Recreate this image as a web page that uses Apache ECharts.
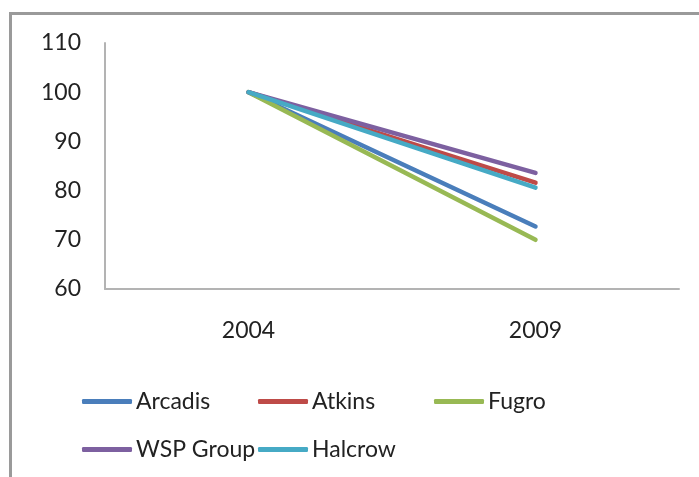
<!DOCTYPE html>
<html><head><meta charset="utf-8">
<script src="https://cdn.jsdelivr.net/npm/echarts@6/dist/echarts.min.js"></script>
<style>html,body{margin:0;padding:0;background:#fff}#c{width:699px;height:477px}</style>
</head><body><div id="c"></div>
<script>
var categories = ['2004', '2009'];
var seriesNames = ['Arcadis', 'Atkins', 'Fugro', 'WSP Group', 'Halcrow'];
var arcadis = [100, 72.7];
var atkins = [100, 81.6];
var fugro = [100, 70.0];
var wspGroup = [100, 83.6];
var halcrow = [100, 80.6];
var yTicks = [60, 70, 80, 90, 100, 110];

var colors = ['#4A7EBB', '#BE4B48', '#98B954', '#7D60A0', '#46AAC5'];
var values = [arcadis, atkins, fugro, wspGroup, halcrow];
var font = 'Lato, "Open Sans", sans-serif';

var legendPos = [[77, 385], [253, 385], [429, 385], [77, 433], [253, 433]];
var legends = seriesNames.map(function (n, i) {
  return {
    data: [n], left: legendPos[i][0], top: legendPos[i][1],
    itemWidth: 50, itemHeight: 5, itemGap: 0, selectedMode: false,
    icon: 'roundRect',
    textStyle: { fontFamily: font, fontSize: 23, color: '#222', padding: [0, 0, 0, -1] }
  };
});

var chart = echarts.init(document.getElementById('c'));
chart.setOption({
  animation: false,
  color: colors,
  graphic: [{
    type: 'polyline', silent: true,
    shape: { points: [[10.5, 480], [10.5, 13.5], [705, 13.5]] },
    style: { stroke: '#9a9a9a', lineWidth: 3, fill: null }
  }],
  grid: { left: 105, right: 20, top: 43, bottom: 188 },
  legend: legends,
  xAxis: {
    type: 'category', data: categories, boundaryGap: true,
    axisLine: { lineStyle: { color: '#b3b3b3', width: 2 } },
    axisTick: { show: false },
    axisLabel: { margin: 30, fontFamily: font, fontSize: 23, color: '#222' }
  },
  yAxis: {
    type: 'value', min: yTicks[0], max: yTicks[yTicks.length - 1], interval: 10,
    axisLine: { show: true, lineStyle: { color: '#b3b3b3', width: 2 } },
    axisTick: { show: false },
    splitLine: { show: false },
    axisLabel: { margin: 24, fontFamily: font, fontSize: 23, color: '#222' }
  },
  series: seriesNames.map(function (n, i) {
    return {
      name: n, type: 'line', data: values[i], symbol: 'none',
      lineStyle: { width: 4.5, color: colors[i], cap: 'round' },
      itemStyle: { color: colors[i] }
    };
  })
});
</script></body></html>
